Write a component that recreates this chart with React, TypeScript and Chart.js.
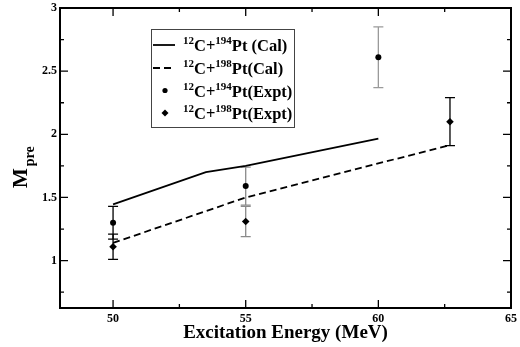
import React, { useEffect, useRef } from "react";
import { Chart, registerables } from "chart.js";

Chart.register(...registerables);

const cal194X = [50, 53.5, 55, 60];
const cal194Y = [1.445, 1.7, 1.75, 1.965];
const cal198X = [50, 55, 62.7];
const cal198Y = [1.14, 1.5, 1.915];
const expt194X = [50, 55, 60];
const expt194Y = [1.3, 1.59, 2.61];
const expt194Err = [0.13, 0.15, 0.24];
const expt194ErrColor = ["#000000", "#8a8a8a", "#9a9a9a"];
const expt198X = [50, 55, 62.7];
const expt198Y = [1.11, 1.31, 2.1];
const expt198Err = [0.1, 0.12, 0.19];
const expt198ErrColor = ["#000000", "#8a8a8a", "#000000"];

const xMajorTicks = [50, 55, 60, 65];
const xMinorTicks = [52.5, 57.5, 62.5];
const yMajorTicks = [1, 1.5, 2, 2.5, 3];
const yMinorTicks = [0.75, 1.25, 1.75, 2.25, 2.75];

const legendItems = [
  { a: "194", rest: "Pt (Cal)", kind: "solid" },
  { a: "198", rest: "Pt(Cal)", kind: "dashed" },
  { a: "194", rest: "Pt(Expt)", kind: "circle" },
  { a: "198", rest: "Pt(Expt)", kind: "diamond" },
];

const SERIF = "'Liberation Serif', 'DejaVu Serif', serif";

const toPts = (xs: number[], ys: number[]) => xs.map((x, i) => ({ x, y: ys[i] }));

const framePlugin = {
  id: "framePlugin",
  beforeDatasetsDraw(chart: any) {
    const ctx = chart.ctx;
    const xs = chart.scales.x;
    const ys = chart.scales.y;
    const drawErr = (xsArr: number[], yArr: number[], err: number[], cols: string[]) => {
      xsArr.forEach((xv, i) => {
        const px = xs.getPixelForValue(xv);
        const top = ys.getPixelForValue(yArr[i] + err[i]);
        const bot = ys.getPixelForValue(yArr[i] - err[i]);
        ctx.save();
        ctx.strokeStyle = cols[i];
        ctx.lineWidth = 1.3;
        ctx.beginPath();
        ctx.moveTo(px, top);
        ctx.lineTo(px, bot);
        ctx.moveTo(px - 5, top);
        ctx.lineTo(px + 5, top);
        ctx.moveTo(px - 5, bot);
        ctx.lineTo(px + 5, bot);
        ctx.stroke();
        ctx.restore();
      });
    };
    drawErr(expt194X, expt194Y, expt194Err, expt194ErrColor);
    drawErr(expt198X, expt198Y, expt198Err, expt198ErrColor);
  },
  afterDatasetsDraw(chart: any) {
    const ctx = chart.ctx;
    const { left, right, top, bottom } = chart.chartArea;
    const xs = chart.scales.x;
    const ys = chart.scales.y;
    ctx.save();
    ctx.strokeStyle = "#000";
    ctx.lineWidth = 1.3;
    ctx.beginPath();
    const xt = (v: number, len: number) => {
      const p = xs.getPixelForValue(v);
      ctx.moveTo(p, bottom);
      ctx.lineTo(p, bottom - len);
      ctx.moveTo(p, top);
      ctx.lineTo(p, top + len);
    };
    const yt = (v: number, len: number) => {
      const p = ys.getPixelForValue(v);
      ctx.moveTo(left, p);
      ctx.lineTo(left + len, p);
      ctx.moveTo(right, p);
      ctx.lineTo(right - len, p);
    };
    xMajorTicks.forEach((v) => xt(v, 8));
    xMinorTicks.forEach((v) => xt(v, 4));
    yMajorTicks.forEach((v) => yt(v, 8));
    yMinorTicks.forEach((v) => yt(v, 4));
    ctx.stroke();
    ctx.lineWidth = 2;
    ctx.strokeRect(left, top, right - left, bottom - top);
    ctx.restore();

    // Axis titles
    ctx.save();
    ctx.fillStyle = "#000";
    ctx.font = `bold 19px ${SERIF}`;
    ctx.textAlign = "center";
    ctx.textBaseline = "alphabetic";
    ctx.fillText("Excitation Energy (MeV)", (left + right) / 2, 338);
    ctx.restore();

    ctx.save();
    ctx.fillStyle = "#000";
    ctx.translate(27, 188);
    ctx.rotate(-Math.PI / 2);
    ctx.textAlign = "left";
    ctx.textBaseline = "alphabetic";
    ctx.font = `bold 21px ${SERIF}`;
    ctx.fillText("M", 0, 0);
    const wM = ctx.measureText("M").width;
    ctx.font = `bold 14px ${SERIF}`;
    ctx.fillText("pre", wM + 2, 7);
    ctx.restore();

    // Legend
    ctx.save();
    ctx.strokeStyle = "#444";
    ctx.lineWidth = 1;
    ctx.fillStyle = "#fff";
    ctx.fillRect(151.5, 29.5, 143, 98);
    ctx.strokeRect(151.5, 29.5, 143, 98);
    const rowsY = [45, 68, 90.5, 113];
    legendItems.forEach((it, i) => {
      const cy = rowsY[i];
      ctx.fillStyle = "#000";
      ctx.strokeStyle = "#000";
      if (it.kind === "solid" || it.kind === "dashed") {
        ctx.lineWidth = 1.8;
        ctx.setLineDash(it.kind === "dashed" ? [7, 4] : []);
        ctx.beginPath();
        ctx.moveTo(153, cy);
        ctx.lineTo(175, cy);
        ctx.stroke();
        ctx.setLineDash([]);
      } else if (it.kind === "circle") {
        ctx.beginPath();
        ctx.arc(165, cy, 2.6, 0, Math.PI * 2);
        ctx.fill();
      } else {
        ctx.beginPath();
        ctx.moveTo(165, cy - 3.5);
        ctx.lineTo(168.5, cy);
        ctx.lineTo(165, cy + 3.5);
        ctx.lineTo(161.5, cy);
        ctx.closePath();
        ctx.fill();
      }
      let x = 183;
      const base = cy + 6;
      ctx.textAlign = "left";
      ctx.textBaseline = "alphabetic";
      ctx.font = `bold 11px ${SERIF}`;
      ctx.fillText("12", x, base - 7);
      x += ctx.measureText("12").width;
      ctx.font = `bold 16.5px ${SERIF}`;
      ctx.fillText("C+", x, base);
      x += ctx.measureText("C+").width;
      ctx.font = `bold 11px ${SERIF}`;
      ctx.fillText(it.a, x, base - 7);
      x += ctx.measureText(it.a).width;
      ctx.font = `bold 16.5px ${SERIF}`;
      ctx.fillText(it.rest, x, base);
    });
    ctx.restore();
  },
};

export default function App() {
  const ref = useRef<HTMLCanvasElement | null>(null);
  useEffect(() => {
    document.body.style.margin = "0";
    if (!ref.current) return;
    const chart = new Chart(ref.current, {
      type: "scatter",
      data: {
        datasets: [
          {
            type: "line",
            label: "cal194",
            data: toPts(cal194X, cal194Y),
            borderColor: "#000",
            borderWidth: 1.8,
            pointRadius: 0,
            fill: false,
            tension: 0,
          },
          {
            type: "line",
            label: "cal198",
            data: toPts(cal198X, cal198Y),
            borderColor: "#000",
            borderWidth: 1.8,
            borderDash: [7, 4],
            pointRadius: 0,
            fill: false,
            tension: 0,
          },
          {
            label: "expt194",
            data: toPts(expt194X, expt194Y),
            backgroundColor: "#000",
            borderColor: "#000",
            pointStyle: "circle",
            pointRadius: 3,
            borderWidth: 0,
          },
          {
            label: "expt198",
            data: toPts(expt198X, expt198Y),
            backgroundColor: "#000",
            borderColor: "#000",
            pointStyle: "rectRot",
            pointRadius: 3.8,
            borderWidth: 0,
          },
        ],
      },
      options: {
        animation: false,
        responsive: false,
        layout: { padding: { top: 8, right: 9, left: 0, bottom: 0 } },
        plugins: { legend: { display: false }, tooltip: { enabled: false } },
        scales: {
          x: {
            type: "linear",
            min: 48,
            max: 65,
            grid: { display: false, drawTicks: false },
            border: { display: false },
            afterBuildTicks: (s: any) => {
              s.ticks = xMajorTicks.map((v) => ({ value: v }));
            },
            afterFit: (s: any) => {
              s.height = 39;
              s.paddingLeft = 0;
              s.paddingRight = 0;
            },
            ticks: {
              color: "#000",
              padding: 4,
              maxRotation: 0,
              font: { family: SERIF, weight: "bold", size: 12 },
              callback: (v: any) => String(v),
            },
          },
          y: {
            type: "linear",
            min: 0.625,
            max: 3,
            grid: { display: false, drawTicks: false },
            border: { display: false },
            afterBuildTicks: (s: any) => {
              s.ticks = yMajorTicks.map((v) => ({ value: v }));
            },
            afterFit: (s: any) => {
              s.width = 60;
              s.paddingTop = 0;
              s.paddingBottom = 0;
            },
            ticks: {
              color: "#000",
              padding: 3,
              font: { family: SERIF, weight: "bold", size: 12 },
              callback: (v: any) => String(v),
            },
          },
        },
      },
      plugins: [framePlugin],
    } as any);
    return () => chart.destroy();
  }, []);
  return (
    <div style={{ position: "absolute", left: 0, top: 0, width: 520, height: 347 }}>
      <canvas ref={ref} width={520} height={347} />
    </div>
  );
}
